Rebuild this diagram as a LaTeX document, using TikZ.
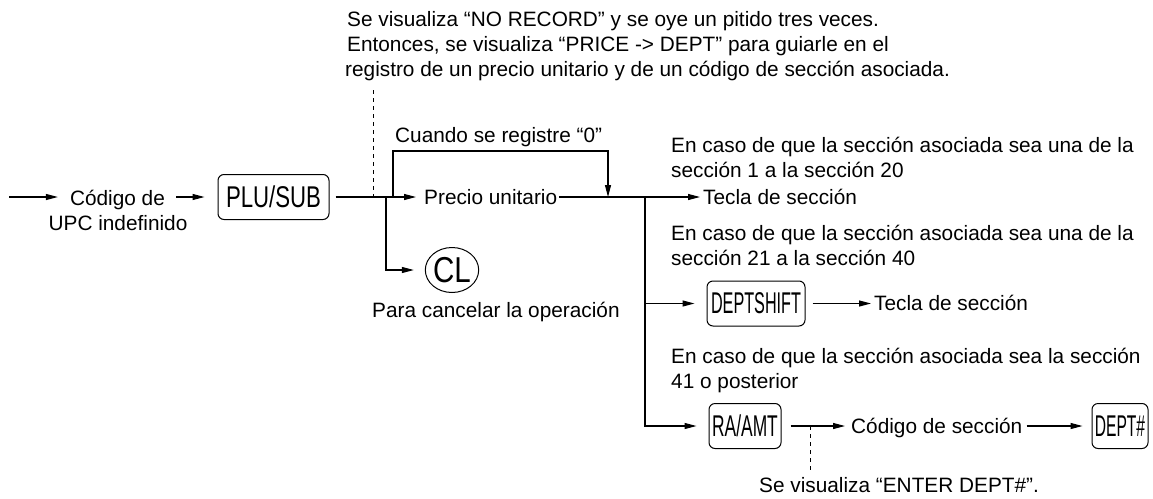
\documentclass[tikz,border=0pt]{standalone}
\usepackage{fontspec}
\setmainfont{Liberation Sans}
\usetikzlibrary{arrows.meta,shapes.geometric}
\begin{document}
\begin{tikzpicture}[x=1pt,y=-1pt,
 txt/.style={font=\fontsize{20.8}{25}\selectfont, inner sep=0pt, anchor=base west},
 keybox/.style={draw, rounded corners=6pt, line width=1pt, minimum height=45pt, inner sep=0pt, font=\fontsize{30}{32}\selectfont},
 conn/.style={line width=1.1pt},
 arr/.style={conn, -{Triangle[length=12pt,width=6pt]}},
 dashconn/.style={line width=1pt, dash pattern=on 4pt off 4pt}]
\useasboundingbox (0,0) rectangle (1153,498);
% coordinates
\coordinate (in) at (9,197);
\coordinate (jd) at (373,197);
\coordinate (dtop) at (373,90);
\coordinate (j0) at (386,197);
\coordinate (jb) at (393,197);
\coordinate (bl) at (393,151);
\coordinate (br) at (608,151);
\coordinate (jm) at (608,197);
\coordinate (jr) at (645,197);
\coordinate (dj) at (810,426);
\coordinate (db) at (810,472);
% texts
\node[txt] (top1) at (347,26) {Se visualiza “NO RECORD” y se oye un pitido tres veces.};
\node[txt] (top2) at (347,51) {Entonces, se visualiza “PRICE -> DEPT” para guiarle en el};
\node[txt] (top3) at (345,76) {registro de un precio unitario y de un código de sección asociada.};
\node[txt, anchor=base] (cod1) at (117.5,205) {Código de};
\node[txt, anchor=base] (cod2) at (118,230) {UPC indefinido};
\node[keybox, minimum width=111pt] (plu) at (273.5,197) {\scalebox{0.74}[1]{PLU/SUB}};
\node[txt] (precio) at (424,204) {Precio unitario};
\node[txt] (cuando) at (395,142) {Cuando se registre “0”};
\node[draw, ellipse, line width=1pt, minimum width=53pt, minimum height=45pt, inner sep=0pt, font=\fontsize{36}{38}\selectfont] (cl) at (452,270) {\scalebox{0.82}[1]{CL}};
\node[txt] (cancel) at (372,317) {Para cancelar la operación};
\node[txt] (c1a) at (671,152) {En caso de que la sección asociada sea una de la};
\node[txt] (c1b) at (671,177) {sección 1 a la sección 20};
\node[txt] (tecla1) at (703,204) {Tecla de sección};
\node[txt] (c2a) at (671,240) {En caso de que la sección asociada sea una de la};
\node[txt] (c2b) at (671,265) {sección 21 a la sección 40};
\node[keybox, minimum width=98pt] (ds) at (756,303.5) {\scalebox{0.54}[1]{DEPTSHIFT}};
\node[txt] (tecla2) at (874,310) {Tecla de sección};
\node[txt] (c3a) at (671,363) {En caso de que la sección asociada sea la sección};
\node[txt] (c3b) at (671,388) {41 o posterior};
\node[keybox, minimum width=72pt] (ra) at (745,426) {\scalebox{0.58}[1]{RA/AMT}};
\node[txt] (cods) at (851,433) {Código de sección};
\node[keybox, minimum width=56pt] (dept) at (1120,426) {\scalebox{0.52}[1]{DEPT\#}};
\node[txt] (enter) at (759,492) {Se visualiza “ENTER DEPT\#”.};
% connectors
\draw[arr, shorten >=12pt] (in) -- (in -| cod1.west);
\draw[arr, shorten <=11pt, shorten >=13pt] (in -| cod1.east) -- (plu.west);
\draw[arr, shorten <=6pt, shorten >=8pt] (plu.east) -- (plu.east -| precio.west);
\draw[arr, shorten >=11pt] (j0) |- (cl.west);
\draw[arr] (jb) -- (bl) -- (br) -- (jm);
\draw[dashconn] (dtop) -- (jd);
\draw[arr, shorten <=2pt, shorten >=3pt] (precio.east |- jr) -- (jr -| tecla1.west);
\draw[arr, shorten >=12pt] (jr) |- (ra.west);
\draw[arr, shorten >=12pt] (jr |- ds.west) -- (ds.west);
\draw[arr, shorten <=7pt, shorten >=3pt] (ds.east) -- (ds.east -| tecla2.west);
\draw[arr, shorten <=9pt, shorten >=6pt] (ra.east) -- (ra.east -| cods.west);
\draw[arr, shorten <=4pt, shorten >=9pt] (ra.east -| cods.east) -- (dept.west);
\draw[dashconn] (dj) -- (db);
\end{tikzpicture}
\end{document}
